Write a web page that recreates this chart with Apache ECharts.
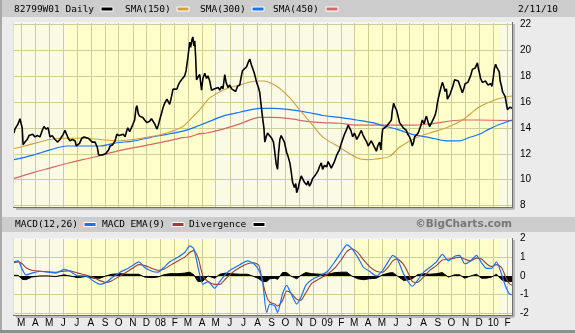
<!DOCTYPE html>
<html><head><meta charset="utf-8">
<script src="https://cdn.jsdelivr.net/npm/echarts@6/dist/echarts.min.js"></script>
<style>html,body{margin:0;padding:0;background:#ebebeb}#c{width:575px;height:333px}</style>
</head><body><div id="c"></div>
<script>
// x values are days since 2007-02-13
const START = Date.UTC(2007, 1, 13);
const END_DAY = 1094;

const price = [[0,13.6],[2,13.9],[6,13.8],[9,14.3],[13,14.7],[15,14.6],[18,14.0],[20,12.7],[24,12.9],[29,13.1],[33,13.4],[37,13.3],[41,13.5],[46,13.3],[52,13.4],[57,13.3],[62,13.8],[66,14.1],[70,13.9],[75,14.0],[79,13.3],[84,13.4],[90,13.1],[96,12.9],[101,13.1],[105,13.2],[108,13.5],[112,13.8],[114,13.7],[119,13.2],[123,13.0],[128,13.1],[134,13.0],[137,12.6],[140,12.45],[144,12.8],[149,13.2],[154,13.3],[158,13.3],[163,13.2],[167,13.1],[172,12.9],[178,12.9],[183,12.5],[186,11.9],[189,11.8],[193,11.9],[197,11.8],[201,12.0],[204,11.9],[208,12.3],[211,12.6],[217,12.7],[222,13.0],[226,13.5],[231,13.4],[235,13.3],[240,13.5],[244,13.3],[247,13.7],[250,14.0],[254,13.7],[257,13.8],[261,14.25],[265,14.6],[268,15.5],[270,15.7],[273,15.1],[276,14.9],[280,15.0],[283,14.8],[287,14.6],[292,14.4],[295,14.3],[298,14.5],[302,14.7],[305,14.8],[309,14.3],[314,13.9],[317,14.2],[320,14.6],[324,15.1],[327,15.5],[331,15.9],[336,16.2],[339,16.0],[342,15.8],[346,16.4],[349,16.96],[353,17.1],[358,17.0],[361,17.3],[364,17.5],[368,17.7],[372,17.6],[375,18.0],[378,18.4],[382,19.4],[384,20.0],[386,20.6],[388,20.2],[391,20.8],[393,21.0],[395,20.3],[397,20.7],[399,19.5],[401,17.7],[404,17.9],[408,18.1],[410,17.5],[412,16.9],[415,17.8],[419,18.2],[423,17.8],[426,18.0],[430,17.6],[434,16.9],[437,16.8],[441,17.0],[445,16.9],[449,17.1],[452,16.9],[456,17.2],[459,17.0],[463,18.1],[466,17.5],[470,17.1],[474,17.3],[478,17.0],[482,16.9],[487,16.8],[491,17.2],[496,17.3],[499,17.9],[502,18.4],[506,18.3],[511,18.7],[514,19.0],[518,19.3],[521,18.9],[524,18.6],[528,18.2],[533,17.5],[537,17.1],[540,16.7],[542,16.0],[544,15.4],[546,14.8],[549,14.0],[551,12.9],[554,13.3],[557,13.6],[561,13.6],[566,13.2],[570,12.9],[573,12.1],[576,11.2],[579,10.8],[581,12.0],[584,13.1],[587,13.4],[590,13.3],[594,12.9],[599,12.1],[602,11.8],[606,11.3],[609,10.6],[612,9.8],[616,9.4],[619,9.7],[621,9.0],[624,9.3],[627,9.8],[631,10.3],[634,10.2],[638,9.8],[643,9.6],[646,9.9],[649,9.5],[652,9.7],[656,10.1],[661,10.3],[665,10.2],[668,10.7],[671,11.0],[675,11.3],[678,10.8],[682,11.1],[687,11.0],[690,11.4],[693,11.2],[697,10.9],[700,10.8],[704,11.4],[709,11.9],[712,12.1],[715,12.3],[719,12.8],[722,13.1],[726,13.5],[731,13.9],[734,14.2],[737,14.3],[740,13.8],[744,13.3],[748,13.6],[753,13.1],[756,13.3],[759,13.3],[763,13.8],[766,13.5],[770,13.2],[775,12.9],[778,12.6],[781,12.6],[785,13.0],[788,12.9],[792,12.5],[796,12.2],[799,12.6],[803,12.9],[806,12.3],[808,13.3],[810,13.9],[814,14.0],[818,14.1],[822,14.0],[825,14.4],[829,14.6],[831,15.3],[834,15.9],[837,15.6],[840,15.4],[843,15.0],[847,14.4],[851,14.3],[855,14.0],[858,14.1],[862,13.8],[865,13.5],[869,13.3],[872,13.0],[875,12.6],[878,12.9],[880,13.3],[884,13.4],[888,13.6],[891,13.9],[894,14.2],[897,14.6],[901,14.3],[904,14.7],[906,14.9],[910,14.4],[913,14.1],[916,14.3],[919,14.4],[923,14.8],[926,15.1],[928,15.4],[930,15.9],[933,16.4],[935,16.7],[938,17.1],[941,17.5],[944,17.2],[947,16.8],[950,17.0],[952,16.2],[955,16.4],[958,16.6],[961,16.5],[964,17.2],[968,17.7],[972,17.8],[976,17.6],[979,17.5],[982,17.0],[985,16.7],[988,17.0],[991,17.4],[994,17.5],[997,17.5],[1000,17.6],[1003,18.0],[1007,18.5],[1010,18.4],[1013,18.6],[1016,18.7],[1018,19.0],[1020,18.6],[1022,18.3],[1025,17.8],[1029,17.5],[1033,17.4],[1036,17.6],[1038,17.5],[1041,17.3],[1044,17.2],[1047,17.4],[1050,17.2],[1053,17.9],[1055,18.5],[1058,18.9],[1060,18.7],[1063,18.6],[1066,18.3],[1068,17.6],[1071,17.2],[1073,16.8],[1076,16.6],[1079,16.4],[1081,16.0],[1084,15.4],[1087,15.3],[1090,15.6],[1094,15.5]];

const sma150 = [[0,12.4],[24,12.6],[79,13.1],[116,13.2],[151,13.2],[189,13.1],[226,13.0],[261,13.1],[298,13.3],[336,13.6],[371,14.1],[386,14.6],[408,15.4],[430,16.3],[459,16.9],[496,17.3],[533,17.6],[546,17.6],[577,17.2],[606,16.3],[627,15.4],[649,14.5],[678,13.3],[715,12.5],[753,11.7],[775,11.55],[796,11.6],[825,11.8],[847,12.5],[875,13.1],[913,13.6],[950,14.0],[985,14.6],[1022,15.6],[1060,16.2],[1094,16.45]];

const sma300 = [[0,11.55],[42,11.9],[79,12.3],[116,12.6],[151,12.6],[189,12.6],[226,12.85],[261,12.97],[298,13.25],[336,13.5],[371,13.75],[386,13.9],[408,14.2],[423,14.4],[459,14.9],[496,15.2],[540,15.5],[568,15.5],[606,15.4],[643,15.2],[678,14.95],[715,14.8],[753,14.6],[788,14.4],[803,14.25],[840,13.9],[875,13.5],[913,13.25],[950,13.0],[979,13.0],[1000,13.25],[1022,13.5],[1044,13.9],[1066,14.25],[1094,14.6]];

const sma450 = [[0,10.1],[42,10.55],[79,10.9],[116,11.25],[151,11.55],[189,11.85],[226,12.2],[261,12.45],[298,12.7],[336,12.97],[371,13.25],[386,13.3],[408,13.55],[423,13.6],[459,13.9],[496,14.3],[540,14.8],[568,14.8],[606,14.7],[643,14.5],[678,14.4],[715,14.35],[753,14.2],[803,14.2],[875,14.2],[913,14.3],[985,14.6],[1022,14.6],[1094,14.55]];

const macdDays = [0,9,18,26,39,57,75,92,110,123,140,158,176,189,202,215,233,250,263,274,287,303,316,329,342,360,375,386,395,404,415,426,441,452,465,478,496,513,527,538,546,555,562,573,579,590,599,608,621,630,641,654,671,689,706,720,731,742,755,768,781,796,810,823,832,842,856,867,875,886,900,913,928,941,954,968,979,990,1003,1016,1027,1038,1049,1060,1071,1079,1088,1094];
const macdLine = [0.75,0.8,0.35,0.05,0.15,0.25,0.2,0.15,0.35,0.25,0.0,0.0,-0.3,-0.45,-0.35,-0.1,0.2,0.4,0.6,0.75,0.45,0.25,0.2,0.45,0.75,1.0,1.25,1.6,1.45,0.5,-0.45,-0.3,-0.65,-0.3,0.1,0.35,0.6,0.8,0.65,0.3,-0.3,-1.95,-1.5,-1.6,-1.95,-0.95,-0.5,-0.9,-1.5,-1.15,-0.5,-0.2,0.0,0.25,0.8,1.3,1.65,1.45,1.0,0.45,0.25,0.0,0.3,0.8,1.1,0.9,0.1,-0.35,-0.55,-0.25,0.2,0.45,0.75,1.15,0.8,1.05,1.1,0.65,0.8,1.1,0.7,0.4,0.4,0.75,0.1,-0.5,-0.95,-1.0];
const macdEma = [0.7,0.75,0.65,0.45,0.3,0.25,0.22,0.2,0.25,0.28,0.15,0.05,-0.1,-0.25,-0.35,-0.25,0.0,0.25,0.45,0.6,0.55,0.4,0.3,0.35,0.55,0.8,1.0,1.25,1.35,1.0,0.0,-0.3,-0.45,-0.45,-0.15,0.15,0.45,0.65,0.7,0.55,-0.3,-1.1,-1.4,-1.5,-1.6,-1.3,-0.8,-0.9,-1.25,-1.3,-0.9,-0.4,-0.15,0.1,0.45,0.9,1.3,1.45,1.25,0.85,0.5,0.25,0.2,0.5,0.8,0.9,0.6,0.1,-0.3,-0.35,-0.05,0.3,0.55,0.85,0.9,0.95,1.0,0.9,0.8,0.95,0.9,0.65,0.5,0.6,0.45,0.0,-0.4,-0.5];
const divergence = [0.03,0.03,-0.18,-0.2,-0.06,0,0,-0.03,0.06,0,-0.09,-0.03,-0.12,-0.12,0,0.09,0.12,0.09,0.09,0.09,-0.06,-0.09,-0.06,0.06,0.12,0.12,0.15,0.2,0.06,-0.3,-0.28,0,-0.12,0.09,0.15,0.12,0.09,0.09,-0.03,-0.15,-0.3,-0.3,-0.15,-0.12,-0.18,0.18,0.18,0,-0.15,0.03,0.18,0.12,0.09,0.09,0.18,0.2,0.2,0,-0.15,-0.2,-0.15,-0.12,0.06,0.15,0.18,0,-0.24,-0.2,-0.15,0.06,0.12,0.09,0.12,0.18,-0.06,0.06,0.06,-0.12,0,0.09,-0.12,-0.12,-0.06,0.09,-0.2,-0.28,-0.3,-0.3];

const priceTicks = [8,10,12,14,16,18,20,22];
const macdTicks = [-2,-1,0,1,2];
// background bands [fromDay, toDay, shade]
const bands = [[0,112,'light'],[112,437,'yellow'],[437,748,'light'],[748,1066,'yellow'],[1066,1094,'light']];

const legendTop = ['SMA(150)','SMA(300)','SMA(450)'];
const legendBottom = ['MACD(12,26)','MACD EMA(9)','Divergence'];

const monthTicks = [];
for (let y = 2007; y <= 2010; y++) for (let m = 0; m < 12; m++) {
  const d = (Date.UTC(y, m, 1) - START) / 864e5;
  if (d > 0 && d <= END_DAY) monthTicks.push(d);
}
function monthLabel(v) {
  const dt = new Date(START + v * 864e5);
  const m = dt.getUTCMonth();
  if (m === 0) return String(dt.getUTCFullYear() % 100).padStart(2, '0');
  return 'JFMAMJJASOND'[m];
}

const C_GRID = '#cdcd96';
const C_LIGHT = '#fbfbe5';
const C_YELLOW = '#ffffcc';
const C_BLACK = '#000000';
const C_ORANGE = '#d4a03c';
const C_BLUE = '#1472ff';
const C_RED = '#d26868';
const C_EMA = '#a23a3a';
const MONO = '"DejaVu Sans Mono", monospace';
const SANS = '"Liberation Sans", Arial, sans-serif';

const zipD = (ds, vs) => ds.map((d, i) => [d, vs[i]]);
const bandArea = bands.map(b => [{xAxis: b[0], itemStyle: {color: b[2] === 'yellow' ? C_YELLOW : C_LIGHT}}, {xAxis: b[1]}]);

function xAxisCfg(gi, showLabels) {
  return {
    type: 'value', gridIndex: gi, min: 0, max: END_DAY,
    axisLine: {show: false},
    axisTick: {show: false, customValues: monthTicks},
    axisLabel: {show: showLabels, customValues: monthTicks, formatter: monthLabel,
      fontFamily: SANS, fontSize: 10, color: '#000', margin: 3},
    splitLine: {show: true, lineStyle: {color: C_GRID, width: 1}}
  };
}
function yAxisCfg(gi, min, max, ticks) {
  return {
    type: 'value', gridIndex: gi, position: 'right', min: min, max: max,
    axisLine: {show: false},
    axisTick: {show: false, customValues: ticks},
    axisLabel: {customValues: ticks, fontFamily: SANS, fontSize: 10, color: '#000', margin: 8},
    splitLine: {show: true, lineStyle: {color: C_GRID, width: 1}}
  };
}

const swatch = (x, y, color) => ({type: 'rect', shape: {x: x, y: y, width: 12, height: 4},
  style: {fill: color, stroke: '#ffffff', lineWidth: 1}, z: 100});
const txt = (x, y, s, extra) => ({type: 'text', x: x, y: y, z: 100,
  style: Object.assign({text: s, font: '9.5px ' + MONO, fill: '#000', verticalAlign: 'middle'}, extra || {})});

const PX0 = 14, PX1 = 512;
function frame(top, bottom) {
  return [
    {type: 'rect', shape: {x: PX0 + 2, y: bottom + 1, width: PX1 - PX0, height: 2}, style: {fill: '#b8b8b8'}, z: 90},
    {type: 'rect', shape: {x: PX1 + 1, y: top + 2, width: 2, height: bottom - top}, style: {fill: '#b8b8b8'}, z: 90},
    {type: 'line', shape: {x1: PX0, y1: top + 0.5, x2: PX1, y2: top + 0.5}, style: {stroke: '#f4f4f4', lineWidth: 1}, z: 91},
    {type: 'line', shape: {x1: PX0 - 0.5, y1: top, x2: PX0 - 0.5, y2: bottom}, style: {stroke: '#dcdcdc', lineWidth: 1}, z: 91},
    {type: 'line', shape: {x1: PX0 - 1, y1: bottom + 0.5, x2: PX1 + 1, y2: bottom + 0.5}, style: {stroke: '#6e6e6e', lineWidth: 1}, z: 91},
    {type: 'line', shape: {x1: PX1 + 0.5, y1: top, x2: PX1 + 0.5, y2: bottom + 1}, style: {stroke: '#6e6e6e', lineWidth: 1}, z: 91}
  ];
}

const chart = echarts.init(document.getElementById('c'), null, {renderer: 'canvas'});
chart.setOption({
  animation: false,
  backgroundColor: '#ebebeb',
  grid: [
    {left: PX0, top: 22, width: PX1 - PX0, height: 185, show: false},
    {left: PX0, top: 238, width: PX1 - PX0, height: 77, show: false}
  ],
  xAxis: [xAxisCfg(0, false), xAxisCfg(1, true)],
  yAxis: [yAxisCfg(0, 7.9, 22.15, priceTicks), yAxisCfg(1, -2.08, 2.02, macdTicks)],
  series: [
    {type: 'line', xAxisIndex: 0, yAxisIndex: 0, data: [[0, 12]], symbol: 'none', silent: true,
      lineStyle: {opacity: 0}, markArea: {silent: true, z: -5, data: bandArea}},
    {type: 'line', xAxisIndex: 1, yAxisIndex: 1, data: [[0, 0]], symbol: 'none', silent: true,
      lineStyle: {opacity: 0}, markArea: {silent: true, z: -5, data: bandArea}},
    {type: 'line', name: legendTop[2], xAxisIndex: 0, yAxisIndex: 0, data: sma450, symbol: 'none', smooth: 0.3,
      lineStyle: {color: C_RED, width: 1.2}},
    {type: 'line', name: legendTop[1], xAxisIndex: 0, yAxisIndex: 0, data: sma300, symbol: 'none', smooth: 0.3,
      lineStyle: {color: C_BLUE, width: 1.2}},
    {type: 'line', name: legendTop[0], xAxisIndex: 0, yAxisIndex: 0, data: sma150, symbol: 'none', smooth: 0.3,
      lineStyle: {color: C_ORANGE, width: 1.1}},
    {type: 'line', name: 'price', xAxisIndex: 0, yAxisIndex: 0, data: price, symbol: 'none',
      lineStyle: {color: C_BLACK, width: 1.6}, z: 5},
    {type: 'line', name: legendBottom[2], xAxisIndex: 1, yAxisIndex: 1, data: zipD(macdDays, divergence), symbol: 'none',
      lineStyle: {color: C_BLACK, width: 1}, areaStyle: {color: C_BLACK, opacity: 1, origin: 0}},
    {type: 'line', name: legendBottom[1], xAxisIndex: 1, yAxisIndex: 1, data: zipD(macdDays, macdEma), symbol: 'none', smooth: 0.2,
      lineStyle: {color: C_EMA, width: 1.1}},
    {type: 'line', name: legendBottom[0], xAxisIndex: 1, yAxisIndex: 1, data: zipD(macdDays, macdLine), symbol: 'none', smooth: 0.2,
      lineStyle: {color: C_BLUE, width: 1.2}}
  ],
  graphic: [
    {type: 'rect', shape: {x: 0, y: 0, width: 575, height: 17}, style: {fill: '#cccccc'}, z: 80},
    {type: 'rect', shape: {x: 0, y: 217, width: 575, height: 15}, style: {fill: '#cccccc'}, z: 80},
    {type: 'rect', shape: {x: 0, y: 0, width: 2, height: 333}, style: {fill: '#a9a9a9'}, z: 81},
    {type: 'rect', shape: {x: 0, y: 330, width: 575, height: 3}, style: {fill: '#8e8e8e'}, z: 81},
    txt(14, 9.5, '82799W01 Daily'),
    swatch(101, 7, C_BLACK),
    txt(125, 9.5, legendTop[0]),
    swatch(177, 7, C_ORANGE),
    txt(200, 9.5, legendTop[1]),
    swatch(252, 7, C_BLUE),
    txt(273, 9.5, legendTop[2]),
    swatch(326, 7, C_RED),
    txt(518, 9.5, '2/11/10'),
    txt(15, 224.5, legendBottom[0]),
    swatch(84, 222.5, C_BLUE),
    txt(102, 224.5, legendBottom[1]),
    swatch(172, 222.5, C_EMA),
    txt(189, 224.5, legendBottom[2]),
    swatch(253, 222.5, C_BLACK),
    {type: 'text', x: 512, y: 224.5, z: 100, style: {text: '\u00A9BigCharts.com', font: 'bold 10.5px "DejaVu Sans", sans-serif',
      fill: '#777777', align: 'right', verticalAlign: 'middle'}}
  ].concat(frame(22, 207), frame(238, 315))
});
</script></body></html>
